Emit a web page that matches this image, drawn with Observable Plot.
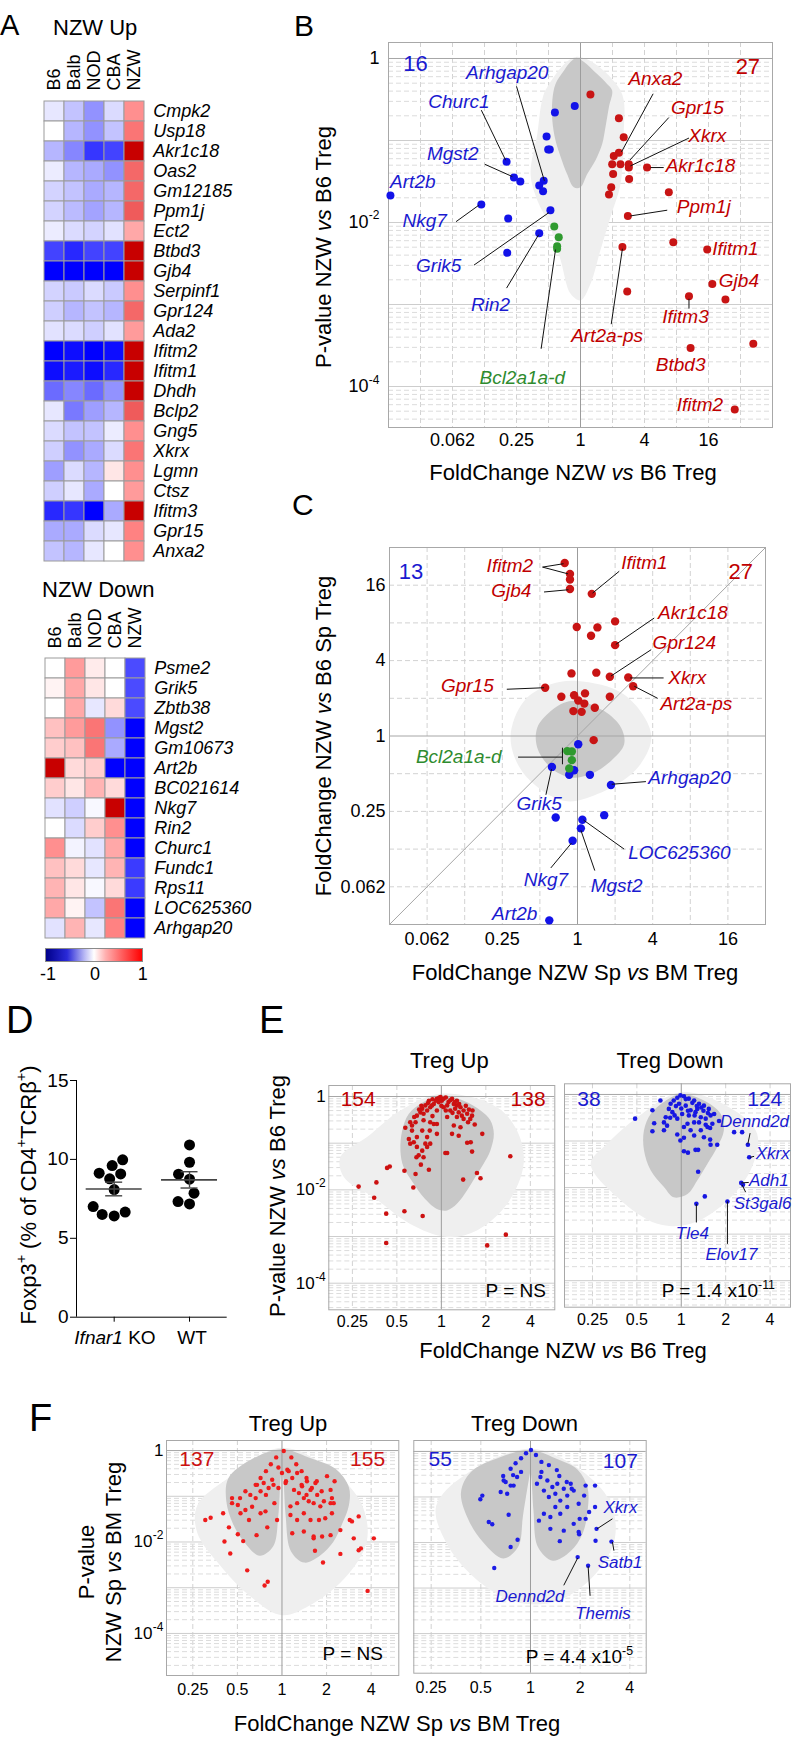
<!DOCTYPE html>
<html><head><meta charset="utf-8">
<script src="https://cdn.jsdelivr.net/npm/d3@7"></script>
<script src="https://cdn.jsdelivr.net/npm/@observablehq/plot@0.6"></script>
<style>
body{margin:0;background:#fff;}
#page{position:relative;width:796px;height:1738px;overflow:hidden;background:#fff;font-family:"Liberation Sans",Arial,Helvetica,sans-serif;}
#overlay{position:absolute;left:0;top:0;pointer-events:none;}
</style></head>
<body><div id="page"></div>
<script>
// ===================== DATA =====================
const strains = ["B6","Balb","NOD","CBA","NZW"];
const upGenes = ["Cmpk2","Usp18","Akr1c18","Oas2","Gm12185","Ppm1j","Ect2","Btbd3","Gjb4","Serpinf1","Gpr124","Ada2","Ifitm2","Ifitm1","Dhdh","Bclp2","Gng5","Xkrx","Lgmn","Ctsz","Ifitm3","Gpr15","Anxa2"];
const upValues = [
 [-0.1,-0.25,-0.45,-0.15,0.45],[0,-0.3,-0.45,-0.25,0.55],[-0.3,-0.5,-0.8,-0.75,1],[-0.08,-0.3,-0.35,-0.45,0.6],
 [-0.18,-0.25,-0.35,-0.3,0.6],[-0.18,-0.28,-0.38,-0.3,0.65],[-0.08,-0.15,-0.18,-0.12,0.35],[-0.75,-0.85,-0.75,-0.75,1],
 [-1,-1,-1,-1,1],[-0.18,-0.22,-0.15,-0.22,0.45],[-0.2,-0.3,-0.25,-0.3,0.6],[-0.12,-0.15,-0.2,-0.12,0.4],
 [-1,-0.95,-1,-0.95,1],[-0.95,-0.9,-0.95,-0.85,1],[-0.6,-0.5,-0.6,-0.45,1],[-0.1,-0.55,-0.4,-0.3,0.65],
 [-0.15,-0.25,-0.25,-0.08,0.45],[-0.2,-0.45,-0.35,-0.15,0.55],[-0.4,-0.15,-0.3,0.1,0.45],[-0.2,-0.1,-0.35,0,0.4],
 [-0.85,-0.8,-1,-0.35,1],[-0.35,-0.35,-0.15,-0.1,0.5],[-0.25,-0.3,-0.1,0,0.45]];
const downGenes = ["Psme2","Grik5","Zbtb38","Mgst2","Gm10673","Art2b","BC021614","Nkg7","Rin2","Churc1","Fundc1","Rps11","LOC625360","Arhgap20"];
const downValues = [
 [0,0.4,0.08,0,-0.72],[0.05,0.35,0.1,0,-0.72],[0,0.35,-0.1,0.15,-0.72],[0.25,0.4,0.55,-0.45,-1],
 [0.2,0.25,0.55,-0.35,-1],[1,0.15,0.2,-1,-1],[0.2,0.1,0.3,0.15,-1],[-0.12,-0.2,-0.03,1,-1],
 [0,-0.15,0.2,0.45,-1],[0.45,-0.05,-0.12,0.35,-1],[0.25,0.15,-0.1,0.3,-0.78],[0.3,0.1,-0.03,0.15,-0.78],
 [0.35,0.05,-0.25,0.55,-1],[-0.12,0.3,-0.1,0.5,-1]];
const colorbarTicks = ["-1","0","1"];

// Panel B: [log2 FoldChange, log10 P]
const bBlue = [[-0.18,-0.58],[-0.80,-0.66],[-1.06,-0.95],[-1.01,-1.11],[-0.96,-1.11],[-2.31,-1.26],[-2.08,-1.45],[-1.88,-1.50],[-1.15,-1.49],[-1.29,-1.55],[-1.17,-1.62],[-5.94,-1.67],[-3.10,-1.78],[-0.94,-1.85],[-2.26,-1.95],[-1.29,-2.13],[-2.29,-2.37]];
const bGreen = [[-0.82,-2.05],[-0.68,-2.18],[-0.73,-2.29],[-0.73,-2.32]];
const bRed = [[0.31,-0.44],[1.20,-0.73],[1.35,-0.96],[1.20,-1.15],[1.04,-1.19],[0.99,-1.29],[1.25,-1.29],[1.51,-1.29],[1.51,-1.33],[2.08,-1.33],[1.02,-1.41],[1.52,-1.47],[0.96,-1.57],[0.89,-1.66],[2.76,-1.63],[1.48,-1.92],[2.90,-2.24],[1.31,-2.30],[3.96,-2.33],[4.12,-2.75],[1.46,-2.84],[3.39,-2.90],[4.53,-2.94],[3.44,-3.53],[5.40,-3.48],[4.82,-4.28]];
const bCloudDense = [[-0.12,0.01],[0.10,-0.04],[0.52,-0.19],[0.83,-0.31],[0.99,-0.39],[0.89,-0.59],[0.78,-0.84],[0.68,-1.04],[0.47,-1.24],[0.21,-1.41],[0,-1.57],[-0.21,-1.57],[-0.42,-1.41],[-0.62,-1.20],[-0.78,-1.00],[-0.88,-0.76],[-0.88,-0.51],[-0.78,-0.31],[-0.52,-0.15],[-0.31,-0.04]];
const bCloudSparse = [[-0.12,0.02],[1.25,-0.39],[1.35,-0.92],[1.25,-1.53],[0.94,-1.93],[0.62,-2.34],[0.31,-2.75],[0,-2.95],[-0.31,-2.87],[-0.62,-2.46],[-0.94,-2.06],[-1.35,-1.73],[-1.56,-1.41],[-1.35,-0.92],[-1.20,-0.51],[-1.04,-0.35]];
const bLabelsBlue = [["Arhgap20",-2.29,-0.17],["Churc1",-3.80,-0.53],["Mgst2",-3.99,-1.16],["Art2b",-5.24,-1.50],["Nkg7",-4.87,-1.98],["Grik5",-4.43,-2.53],["Rin2",-2.81,-3.01]];
const bLabelsGreen = [["Bcl2a1a-d",-1.82,-3.89]];
const bLabelsRed = [["Anxa2",2.34,-0.25],["Gpr15",3.65,-0.60],["Xkrx",3.96,-0.95],["Akr1c18",3.75,-1.31],["Ppm1j",3.85,-1.81],["Ifitm1",4.84,-2.32],["Gjb4",4.95,-2.71],["Ifitm3",3.28,-3.15],["Art2a-ps",0.83,-3.38],["Btbd3",3.13,-3.74],["Ifitm2",3.73,-4.23]];
const bLinks = [[-2.0,-0.34,-1.13,-1.49],[-3.10,-0.63,-2.34,-1.24],[-2.99,-1.29,-2.13,-1.44],[-3.89,-1.99,-3.18,-1.79],[-3.33,-2.52,-0.99,-1.88],[-2.31,-2.80,-1.31,-2.15],[-1.23,-3.54,-0.78,-2.33],[2.27,-0.43,1.28,-1.14],[2.76,-0.72,1.54,-1.24],[3.39,-0.97,1.56,-1.31],[2.60,-1.33,2.19,-1.33],[2.71,-1.85,1.56,-1.92],[3.39,-3.05,3.39,-2.93],[0.96,-3.24,1.31,-2.32]];
const bCountsBlue = [["16",-5.16,-0.07]];
const bCountsRed = [["27",5.23,-0.10]];
const bXTickVals = [-4,-2,0,2,4];
const bXTickLabels = ["0.062","0.25","1","4","16"];
const pYTickVals = [0,-2,-4];

// Panel C: [log2 FC Sp vs BM, log2 FC NZW vs B6]
const cRed = [[-0.34,4.59],[-0.20,4.30],[-0.20,4.15],[-0.20,3.90],[0.38,3.77],[-0.02,2.89],[0.53,2.88],[1.00,3.04],[0.36,2.66],[1.00,2.41],[-0.16,1.66],[0.50,1.68],[0.86,1.57],[1.35,1.55],[1.48,1.32],[-0.86,1.28],[-0.43,1.04],[-0.09,1.08],[0.20,1.13],[0.86,1.04],[0.02,0.94],[0.18,0.86],[0.46,0.75],[-0.11,0.66],[0.11,0.64],[0.43,-0.11]];
const cBlue = [[0.02,-0.22],[-0.68,-0.82],[-0.22,-1.03],[-0.09,-0.91],[0.33,-1.03],[0.89,-1.30],[-0.58,-2.16],[0.71,-2.10],[0.13,-2.22],[0.09,-2.45],[-0.13,-2.78],[-0.75,-4.89]];
const cGreen = [[-0.27,-0.40],[-0.15,-0.41],[-0.15,-0.64],[-0.22,-0.86]];
const cCloudDense = [[0,0.93],[0.71,0.66],[1.16,0.22],[1.24,-0.22],[0.89,-0.66],[0.36,-1.01],[-0.18,-1.10],[-0.71,-0.84],[-1.07,-0.31],[-1.07,0.22],[-0.71,0.66],[-0.36,0.88]];
const cCloudSparse = [[0,1.46],[1.24,1.10],[1.96,0.04],[1.60,-0.84],[0.53,-1.54],[-0.36,-1.72],[-1.42,-1.01],[-1.78,-0.04],[-1.42,0.93],[-0.71,1.37]];
const cLabelsRed = [["Ifitm2",-1.80,4.50],["Gjb4",-1.76,3.85],["Ifitm1",1.78,4.59],["Akr1c18",3.07,3.26],["Gpr124",2.84,2.47],["Xkrx",2.92,1.54],["Art2a-ps",3.16,0.86],["Gpr15",-2.93,1.32]];
const cLabelsBlue = [["Arhgap20",2.98,-1.12],["Grik5",-1.02,-1.79],["LOC625360",2.71,-3.11],["Nkg7",-0.84,-3.82],["Mgst2",1.04,-3.97],["Art2b",-1.67,-4.72]];
const cLabelsGreen = [["Bcl2a1a-d",-3.16,-0.56]];
const cLinks = [[-0.93,4.48,-0.37,4.57],[-0.93,4.48,-0.25,4.30],[-0.89,3.82,-0.24,3.88],[1.11,4.37,0.40,3.79],[2.04,3.13,1.02,2.43],[1.96,2.29,0.89,1.59],[2.29,1.54,1.40,1.54],[2.13,1.00,1.51,1.32],[-1.88,1.24,-0.89,1.28],[-1.58,-0.56,-0.40,-0.56],[-0.40,-0.31,-0.40,-0.75],[1.82,-1.21,0.91,-1.28],[-0.84,-1.56,-0.69,-0.88],[1.24,-3.00,0.16,-2.23],[-0.71,-3.50,-0.16,-2.84],[0.46,-3.57,0.09,-2.50]];
const cCountsBlue = [["13",-4.43,4.35]];
const cCountsRed = [["27",4.34,4.35]];
const cTickVals = [-4,-2,0,2,4];
const cTickLabels = ["0.062","0.25","1","4","16"];

// Panel D: Foxp3+ (% of CD4+TCRb+)
const foxGroups = ["Ifnar1 KO","WT"];
const koValues = [9.13,9.61,9.97,9.08,8.77,8.09,6.66,6.42,6.51,7.01];
const wtValues = [10.92,9.82,9.06,8.75,7.86,7.18,7.33];
const dTicks = [0,5,10,15];

// Panel E: [log2 FC NZW vs B6, log10 P]
const eUpRed = [[-1.86,-1.93],[-1.46,-1.84],[-1.51,-2.17],[-1.24,-2.51],[-1.24,-3.14],[-0.83,-2.46],[-0.42,-2.56],[-0.63,-1.95],[-0.58,-1.66],[-0.28,-1.57],[-0.83,-1.59],[-1.16,-1.50],[-1.22,-1.53],[-0.46,-1.46],[0.49,-1.78],[0.80,-1.64],[0.88,-1.75],[1.03,-3.19],[1.45,-2.96],[1.55,-1.28],[0.69,-1.18],[0.58,-0.99],[0.66,-0.98],[0.92,-0.80],[0.13,-1.21],[0.09,-1.21],[-0.56,-1.30],[-0.51,-1.26],[-0.32,-1.08],[-0.70,-1.01],[-0.73,-0.91],[-0.66,-0.73],[-0.81,-0.67],[-0.61,-0.44],[-0.40,-0.51],[-0.25,-0.55],[-0.10,-0.80],[-0.17,-0.59],[0.24,-0.80],[0.39,-0.84],[0.43,-0.66],[0.50,-0.48],[0.65,-0.48],[0.28,-0.62],[0.35,-0.44],[0.13,-0.44],[-0.55,-0.87],[-0.43,-1.16],[-0.36,-1.01],[-0.25,-1.01],[-0.40,-1.30],[-0.32,-0.87],[-0.26,-0.73],[-0.43,-0.73],[-0.10,-0.59],[0.05,-0.23],[0.13,-0.19],[0.20,-0.30],[0.35,-0.19],[0.43,-0.23],[0.50,-0.30],[-0.17,-0.16],[-0.25,-0.23],[-0.32,-0.30],[-0.40,-0.37],[-0.47,-0.34],[-0.55,-0.41],[-0.06,-0.12],[0.01,-0.09],[-0.10,-0.05],[0.05,-0.05],[0.16,-0.12],[0.28,-0.16],[0.31,-0.26],[0.58,-0.37],[0.69,-0.41],[-0.02,-0.01],[-0.13,-0.09],[-0.21,-0.19],[-0.28,-0.09],[0.24,-0.05],[0.35,-0.09],[0.39,-0.34],[0.46,-0.41],[-0.36,-0.19],[-0.43,-0.26],[-0.58,-0.55],[-0.66,-0.62],[-0.55,-1.08],[-0.62,-0.98],[0.10,-0.02],[-0.05,-0.03],[0.20,-0.08],[-0.20,-0.06],[0.30,-0.12],[-0.30,-0.14],[0.40,-0.16],[0.55,-0.20],[0.62,-0.28],[0.70,-0.30],[-0.45,-0.20],[-0.50,-0.28],[0.10,-0.30],[0.00,-0.20],[-0.10,-0.30],[0.25,-0.35],[-0.20,-0.42],[0.60,-0.55],[0.75,-0.60],[-0.70,-0.55]];
const eDownBlue = [[-1.04,-0.52],[-0.65,-0.34],[-0.61,-0.62],[-0.65,-0.79],[-0.39,-0.60],[-0.35,-0.49],[-0.32,-0.67],[-0.39,-0.77],[-0.09,-0.86],[0.06,-0.93],[0.06,-1.22],[0.15,-1.25],[0.32,-1.19],[0.38,-1.19],[0.38,-1.66],[0.53,-2.19],[0.34,-2.35],[1.04,-2.30],[1.35,-1.90],[1.39,-1.94],[1.50,-1.08],[1.53,-1.35],[1.19,-0.81],[1.37,-0.81],[0.81,-1.08],[0.65,-0.97],[0.51,-0.92],[0.29,-0.88],[0.21,-0.77],[0.44,-0.77],[0.59,-0.70],[0.70,-0.63],[0.74,-0.42],[0.62,-0.31],[0.51,-0.24],[0.40,-0.20],[0.29,-0.13],[0.17,-0.09],[0.06,-0.04],[-0.02,-0.02],[-0.09,-0.07],[-0.17,-0.13],[-0.24,-0.20],[-0.28,-0.31],[-0.20,-0.38],[-0.05,-0.20],[0.10,-0.24],[0.21,-0.34],[0.32,-0.38],[0.44,-0.49],[0.55,-0.52],[0.29,-0.60],[0.14,-0.63],[0.02,-0.42],[-0.09,-0.52],[0.17,-0.45],[0.36,-0.31],[0.66,-0.45],[0.85,-0.57],[-0.47,-0.13],[0.06,-0.70],[-0.02,-0.99],[0.66,-1.08],[0.10,-0.10],[0.25,-0.18],[0.45,-0.28],[0.60,-0.40],[0.50,-0.35],[0.35,-0.25],[-0.12,-0.25],[0.00,-0.30],[0.15,-0.35],[0.30,-0.45],[0.40,-0.60],[0.55,-0.65],[0.65,-0.72],[-0.15,-0.45],[-0.25,-0.50]];
const eUpCloudDense = [[0,0.02],[0.50,-0.09],[0.88,-0.30],[1.10,-0.51],[1.18,-0.80],[1.10,-1.16],[0.95,-1.44],[0.76,-1.73],[0.58,-2.01],[0.35,-2.30],[0.13,-2.44],[-0.10,-2.41],[-0.40,-2.16],[-0.62,-1.87],[-0.85,-1.51],[-0.92,-1.16],[-0.88,-0.73],[-0.73,-0.37],[-0.40,-0.12]];
const eUpCloudSparse = [[0,0.06],[1.25,-0.23],[1.70,-0.73],[1.85,-1.44],[1.48,-2.30],[0.80,-2.87],[0.13,-3.01],[-0.70,-2.73],[-1.52,-2.16],[-2.19,-1.73],[-2.27,-1.30],[-1.67,-0.87],[-0.92,-0.30]];
const eDownCloudDense = [[0,0.01],[0.51,-0.13],[0.89,-0.42],[0.96,-0.77],[0.81,-1.13],[0.59,-1.49],[0.36,-1.85],[0.14,-2.14],[-0.17,-2.21],[-0.39,-1.99],[-0.69,-1.63],[-0.84,-1.20],[-0.84,-0.77],[-0.69,-0.42],[-0.39,-0.16]];
const eDownCloudSparse = [[0,0.05],[1.19,-0.34],[1.71,-0.85],[1.56,-1.63],[0.96,-2.35],[0.21,-2.78],[-0.54,-2.78],[-1.44,-2.21],[-2.04,-1.49],[-1.67,-1.06],[-0.99,-0.49]];
const eDownLabels = [["Dennd2d",1.65,-0.59],["Xkrx",2.06,-1.28],["Adh1",1.97,-1.85],["St3gal6",1.83,-2.34],["Tle4",0.25,-2.98],["Elov17",1.13,-3.43]];
const eDownLinks = [[1.55,-0.83,1.50,-1.06],[1.64,-1.33,1.55,-1.35],[1.52,-1.89,1.35,-1.90],[1.45,-2.10,1.37,-1.94],[0.34,-2.75,0.34,-2.35],[1.04,-3.21,1.04,-2.30]];
const eUpCounts = [["154",-1.87,-0.06],["138",1.95,-0.06]];
const eDownCounts = [["38",-2.08,-0.11],["124",1.88,-0.11]];
const eTickVals = [-2,-1,0,1,2];
const eTickLabels = ["0.25","0.5","1","2","4"];

// Panel F: [log2 FC NZW Sp vs BM, log10 P]
const fUpRed = [[-1.72,-1.52],[-1.60,-1.47],[-1.32,-1.37],[-1.19,-1.68],[-1.29,-1.99],[-1.16,-2.25],[-0.99,-1.83],[-0.87,-1.98],[-0.78,-2.62],[-0.39,-2.95],[-0.32,-2.87],[-0.57,-1.85],[-0.33,-1.68],[-0.11,-1.52],[-1.12,-1.15],[-1.12,-1.04],[-0.99,-1.19],[-0.93,-1.37],[-0.82,-1.30],[-0.74,-1.52],[-0.67,-1.23],[-0.71,-0.97],[-0.56,-0.75],[-0.48,-0.89],[-0.41,-0.71],[-0.30,-0.82],[-0.22,-0.64],[-0.37,-1.33],[-0.48,-1.37],[-0.17,-1.15],[0.19,-1.22],[0.34,-1.15],[0.27,-0.86],[0.38,-0.93],[0.49,-1.04],[0.60,-1.11],[0.71,-1.15],[0.79,-0.97],[0.86,-1.22],[0.94,-1.11],[1.09,-1.15],[1.12,-1.37],[0.97,-1.48],[0.83,-1.52],[0.64,-1.52],[0.49,-1.37],[0.34,-1.52],[0.19,-1.41],[0.23,-1.81],[0.49,-1.77],[0.71,-1.88],[0.90,-1.88],[1.09,-1.85],[1.31,-1.74],[1.52,-1.52],[1.57,-1.55],[1.72,-1.44],[1.61,-1.92],[2.06,-1.92],[1.77,-2.14],[1.72,-2.18],[1.31,-2.26],[0.92,-2.45],[0.74,-2.19],[0.71,-1.92],[1.92,-3.07],[0.45,-0.78],[0.56,-0.67],[0.64,-0.86],[0.75,-0.71],[1.01,-0.56],[1.09,-0.86],[1.16,-1.15],[0.08,-0.71],[0.00,-0.49],[0.12,-0.42],[0.34,-0.49],[0.23,-0.60],[0.04,-0.01],[-0.13,-0.15],[0.21,-0.15],[-0.25,-0.30],[0.32,-0.30],[-0.36,-0.45],[0.44,-0.45],[-0.48,-0.60],[0.55,-0.60],[-0.08,-0.37],[0.15,-0.45],[-0.59,-0.75],[0.78,-0.67],[0.67,-0.82],[0.89,-0.89],[-0.82,-0.89],[1.12,-1.04],[-0.94,-1.04],[0.09,-0.67],[-0.08,-0.82],[0.44,-0.75],[0.55,-0.97],[-0.36,-0.97],[-0.19,-0.75],[1.18,-0.67],[-0.59,-1.04]];
const fDownBlue = [[-1.01,-1.05],[-0.84,-1.55],[-0.77,-1.60],[-0.73,-2.56],[-0.40,-2.10],[-0.26,-1.94],[-0.44,-1.39],[-0.60,-0.89],[-0.47,-0.93],[-0.34,-0.75],[-0.54,-0.64],[-0.27,-0.56],[0.17,-1.52],[0.27,-1.37],[0.40,-1.44],[0.50,-1.22],[0.60,-1.08],[0.74,-0.97],[0.87,-0.86],[0.97,-1.15],[1.08,-0.97],[1.11,-0.75],[1.30,-0.75],[1.30,-1.22],[1.18,-1.33],[0.99,-1.48],[1.11,-1.48],[0.87,-1.59],[0.67,-1.74],[0.97,-1.77],[0.98,-1.82],[0.59,-1.97],[0.40,-1.70],[1.31,-1.96],[1.33,-1.70],[1.63,-1.98],[0.95,-2.32],[1.16,-2.51],[0.13,-0.71],[0.20,-0.56],[0.34,-0.64],[0.44,-0.78],[0.54,-0.71],[0.67,-0.82],[0.81,-0.71],[0.27,-0.86],[0.37,-1.00],[0.50,-0.93],[0.74,-1.22],[0.60,-1.37],[0.01,0.03],[-0.09,-0.04],[0.11,-0.08],[-0.19,-0.15],[0.22,-0.23],[-0.30,-0.26],[0.37,-0.30],[-0.40,-0.38],[0.53,-0.41],[-0.35,-0.52],[0.58,-0.54],[-0.50,-0.67],[0.73,-0.67],[-0.19,-0.45],[0.22,-0.45],[-0.55,-0.54],[0.83,-0.82],[-0.97,-0.97],[-0.40,-0.75]];
const fUpCloudDense = [[0,0.03],[0.6,-0.15],[1.2,-0.4],[1.5,-0.8],[1.5,-1.2],[1.35,-1.6],[1.15,-2.0],[0.85,-2.3],[0.5,-2.45],[0.2,-2.2],[0.08,-1.4],[0.03,-0.6],[0,-0.45],[-0.03,-0.6],[-0.08,-1.4],[-0.2,-2.1],[-0.5,-2.3],[-0.85,-2.0],[-1.1,-1.6],[-1.25,-1.1],[-1.2,-0.6],[-0.7,-0.2]];
const fUpCloudSparse = [[0,0.06],[1.2,-0.5],[1.8,-1.2],[1.9,-2.0],[1.4,-2.8],[0.6,-3.4],[0,-3.6],[-0.7,-3.2],[-1.4,-2.5],[-1.9,-1.8],[-1.9,-1.2],[-1.2,-0.6]];
const fDownCloudDense = [[0,0.03],[0.5,-0.15],[0.95,-0.4],[1.15,-0.8],[1.15,-1.3],[1.05,-1.8],[0.8,-2.2],[0.45,-2.4],[0.15,-2.1],[0.06,-1.3],[0.02,-0.6],[0,-0.45],[-0.03,-0.6],[-0.15,-1.4],[-0.25,-2.1],[-0.55,-2.35],[-0.95,-2.0],[-1.25,-1.5],[-1.4,-0.9],[-1.2,-0.45],[-0.6,-0.12]];
const fDownCloudSparse = [[0,0.06],[1.0,-0.4],[1.6,-1.1],[1.7,-1.9],[1.3,-2.7],[0.5,-3.3],[-0.3,-3.3],[-1.1,-2.8],[-1.7,-2.0],[-1.9,-1.2],[-1.3,-0.5]];
const fDownLabels = [["Xkrx",1.81,-1.24],["Satb1",1.80,-2.43],["Dennd2d",-0.01,-3.19],["Themis",1.46,-3.55]];
const fDownLinks = [[1.65,-1.48,1.34,-1.70],[1.68,-2.18,1.65,-1.99],[0.67,-2.94,0.95,-2.34],[1.20,-3.17,1.16,-2.52]];
const fUpCounts = [["137",-1.91,-0.19],["155",1.92,-0.20]];
const fDownCounts = [["55",-1.82,-0.17],["107",1.81,-0.22]];

// ===================== DRAWING =====================
const FONT = '"Liberation Sans", Arial, Helvetica, sans-serif';
const page = document.getElementById("page");
const STYLE = {fontFamily: FONT, background: "transparent", overflow: "visible", color: "#000"};
function place(el, left, top) { el.style.position = "absolute"; el.style.left = left + "px"; el.style.top = top + "px"; el.style.maxWidth = "none"; page.appendChild(el); }
const T = a => a.map(([t, x, y]) => ({t, x, y}));

// Heatmaps
const heatColor = {type: "linear", domain: [-1, -0.5, 0, 0.5, 1], range: ["#0000ff", "#8686ff", "#ffffff", "#ff8282", "#c80000"], interpolate: "rgb"};
function heatmap(genes, values, o) {
  const cells = [];
  genes.forEach((g, i) => strains.forEach((s, j) => cells.push({gene: g, strain: s, value: values[i][j]})));
  return Plot.plot({
    width: 290, height: o.h, marginLeft: o.ml, marginRight: 290 - o.ml - 5 * 20.3, marginTop: o.mt, marginBottom: o.h - o.mt - genes.length * o.rh,
    x: {domain: strains, padding: 0},
    y: {domain: genes, padding: 0},
    color: heatColor,
    style: STYLE,
    marks: [
      Plot.cell(cells, {x: "strain", y: "gene", fill: "value", stroke: "#9c9c9c", strokeWidth: 1, inset: 0}),
      Plot.axisX({anchor: "top", tickSize: 0, tickRotate: -90, tickPadding: o.tp, fontSize: 18, label: null}),
      Plot.axisY({anchor: "right", tickSize: 0, tickPadding: 8, fontSize: 18, fontStyle: "italic", label: null})
    ]
  });
}
place(heatmap(upGenes, upValues, {h: 580, ml: 43.3, mt: 99, rh: 20.2, tp: 9}), 0, 0);
place(heatmap(downGenes, downValues, {h: 365, ml: 44.3, mt: 78, rh: 20, tp: 10}), 0, 580);
const cb = document.createElement("div");
cb.style.cssText = "position:absolute;left:45px;top:948px;width:98px;height:14px;box-sizing:border-box;border:1px solid #8a8a8a;background:linear-gradient(to right,#00008a,#2a2ad8 22%,#b8b8f4 40%,#ffffff 50%,#ffb0b0 62%,#ff5a5a 80%,#ff0000)";
page.appendChild(cb);

// Scatter/volcano helper
function minorLog(lo, hi, dom) { const a = []; for (let k = lo; k < hi; k++) for (let m = 2; m < 10; m++) { const v = k + Math.log10(m); if (v > dom[0] && v < dom[1]) a.push(v); } return a; }
function logTickMarks(vals, size, sup, pad) {
  const one = vals.filter(v => v === 0).map(v => ({v}));
  const ten = vals.filter(v => v !== 0).map(v => ({v, e: String(v)}));
  return [
    Plot.text(one, {y: "v", text: () => "1", frameAnchor: "left", textAnchor: "end", dx: -pad, fontSize: size}),
    Plot.text(ten, {y: "v", text: () => "10", frameAnchor: "left", textAnchor: "end", dx: -(pad + sup * 0.92), fontSize: size}),
    Plot.text(ten, {y: "v", text: "e", frameAnchor: "left", textAnchor: "end", dx: -pad, dy: -size * 0.38, fontSize: sup})
  ];
}
function scatter(c) {
  const m = [];
  const [y0, y1] = c.ydom;
  if (c.vgrid) m.push(Plot.ruleX(c.vgrid, {stroke: "#d2d2d2", strokeDasharray: "5,3"}));
  if (c.hgrid) m.push(Plot.ruleY(c.hgrid, {stroke: "#d2d2d2", strokeDasharray: "5,3"}));
  if (c.logY) {
    m.push(Plot.ruleY(minorLog(-6, 1, c.ydom), {stroke: "#dcdcdc", strokeDasharray: "5,3"}));
    m.push(Plot.ruleY(d3.range(-6, 0).filter(v => v > y0 && v < y1), {stroke: "#cdcdcd"}));
  }
  for (const [pts, fill, op] of c.clouds) m.push(Plot.line(pts, {x: d => d[0], y: d => d[1], fill, fillOpacity: op == null ? 1 : op, stroke: "none", curve: "catmull-rom-closed"}));
  if (c.diag) m.push(Plot.line(c.diag, {x: d => d[0], y: d => d[1], stroke: "#a6a6a6", strokeWidth: 1}));
  m.push(Plot.ruleX([0], {stroke: "#9c9c9c"}), Plot.ruleY([0], {stroke: "#a6a6a6"}), Plot.frame({stroke: "#a8a8a8"}));
  for (const [pts, fill, r] of c.dots) m.push(Plot.dot(pts, {x: d => d[0], y: d => d[1], r, fill}));
  if (c.links) m.push(Plot.link(c.links, {x1: d => d[0], y1: d => d[1], x2: d => d[2], y2: d => d[3], stroke: "#111", strokeWidth: 1}));
  for (const [arr, fill, size, style] of c.texts) m.push(Plot.text(T(arr), {x: "x", y: "y", text: "t", fill, fontSize: size, fontStyle: style || "normal"}));
  const xl = new Map(c.xTicks.vals.map((v, i) => [v, c.xTicks.labels[i]]));
  m.push(Plot.axisX({ticks: c.xTicks.vals, tickFormat: d => xl.get(d), tickSize: 0, tickPadding: c.xTicks.pad, fontSize: c.xTicks.size, label: null}));
  if (c.yAxis) {
    const yl = new Map(c.yAxis.vals.map((v, i) => [v, c.yAxis.labels[i]]));
    m.push(Plot.axisY({ticks: c.yAxis.vals, tickFormat: d => yl.get(d), tickSize: 0, tickPadding: c.yAxis.pad, fontSize: c.yAxis.size, label: null}));
  }
  if (c.logTicks) m.push(...logTickMarks(c.logTicks.vals, c.logTicks.size, c.logTicks.sup, c.logTicks.pad));
  return Plot.plot({
    width: c.w, height: c.h, marginLeft: c.ml, marginRight: c.mr, marginTop: c.mt, marginBottom: c.mb,
    x: {domain: c.xdom}, y: c.yAxis ? {domain: c.ydom} : {domain: c.ydom, axis: null},
    style: STYLE, marks: m
  });
}
const RED = "#c81414", BLUE = "#1212e8", GREEN = "#2f9a2f";
const RED_T = "#c00000", BLUE_T = "#1a1ad0", GREEN_T = "#2e8b2e";
const DENSE = "#c8c8c8", SPARSE = "#efefef";

// Panel B
place(scatter({
  w: 506, h: 490, ml: 98, mr: 24, mt: 42, mb: 63, xdom: [-6, 6], ydom: [-4.5, 0.195],
  vgrid: d3.range(-5, 6).filter(v => v !== 0), logY: true,
  clouds: [[bCloudSparse, SPARSE], [bCloudDense, DENSE]],
  dots: [[bBlue, BLUE, 4], [bGreen, GREEN, 4], [bRed, RED, 4]],
  links: bLinks,
  texts: [[bLabelsBlue, BLUE_T, 19, "italic"], [bLabelsGreen, GREEN_T, 19, "italic"], [bLabelsRed, RED_T, 19, "italic"], [bCountsBlue, BLUE_T, 22], [bCountsRed, RED_T, 22]],
  xTicks: {vals: bXTickVals, labels: bXTickLabels, pad: 6, size: 18},
  logTicks: {vals: pYTickVals, size: 18, sup: 12, pad: 9}
}), 290, 0);

// Panel C
place(scatter({
  w: 506, h: 500, ml: 99, mr: 31, mt: 57, mb: 66, xdom: [-5, 5], ydom: [-5, 5],
  vgrid: d3.range(-4, 5).filter(v => v !== 0), hgrid: d3.range(-4, 5).filter(v => v !== 0),
  clouds: [[cCloudSparse, SPARSE], [cCloudDense, DENSE]],
  diag: [[-5, -5], [5, 5]],
  dots: [[cRed, RED, 4.2], [cBlue, BLUE, 4.2], [cGreen, GREEN, 4.2]],
  links: cLinks,
  texts: [[cLabelsRed, RED_T, 19, "italic"], [cLabelsBlue, BLUE_T, 19, "italic"], [cLabelsGreen, GREEN_T, 19, "italic"], [cCountsBlue, BLUE_T, 22], [cCountsRed, RED_T, 22]],
  xTicks: {vals: cTickVals, labels: cTickLabels, pad: 8, size: 18},
  yAxis: {vals: cTickVals, labels: cTickLabels, pad: 4, size: 18}
}), 290, 490);

// Panel D (scatter with mean ± SEM)
const dML = 76, dMR = 63.3, dMT = 90, dMB = 43.3, dW = 290, dH = 370;
const dPxX = (dW - dML - dMR) / 2, dPxY = (dH - dMT - dMB) / 15, dotR = 5.5;
function swarmOffsets(values) {
  // beeswarm layout: smallest horizontal shift (px) so dots do not overlap; returned in x-scale units
  const placed = [], out = new Array(values.length);
  const order = values.map((v, i) => i).sort((a, b) => values[a] - values[b]);
  for (const i of order) {
    const y = values[i] * dPxY;
    let x = 0;
    for (let k = 0; k < 400; k++) {
      const cand = (k % 2 ? -1 : 1) * Math.ceil(k / 2) * 0.5;
      if (placed.every(p => Math.hypot(p.x - cand, p.y - y) >= 2 * dotR + 0.6)) { x = cand; break; }
    }
    placed.push({x, y}); out[i] = x / dPxX;
  }
  return out;
}
const foxData = [];
[koValues, wtValues].forEach((vals, gi) => {
  const off = swarmOffsets(vals);
  vals.forEach((v, i) => foxData.push({group: foxGroups[gi], pos: gi + 0.5, value: v, off: off[i]}));
});
const foxStats = foxGroups.map((g, gi) => {
  const v = foxData.filter(d => d.group === g).map(d => d.value);
  const mean = d3.mean(v), se = d3.deviation(v) / Math.sqrt(v.length);
  return {group: g, pos: gi + 0.5, mean, lo: mean - se, hi: mean + se};
});
const meanHalf = 28 / dPxX, semHalf = 8.5 / dPxX;
place(Plot.plot({
  width: dW, height: dH, marginLeft: dML, marginRight: dMR, marginTop: dMT, marginBottom: dMB,
  x: {domain: [0, 2]},
  y: {domain: [0, 15]},
  style: STYLE,
  marks: [
    Plot.ruleX([0], {y1: 0, y2: 15, stroke: "#000"}),
    Plot.ruleY([0], {stroke: "#000"}),
    Plot.axisY({ticks: dTicks, tickSize: 6, tickPadding: 2, fontSize: 19, label: null}),
    Plot.axisX({ticks: foxStats.map(d => d.pos), tickSize: 5, tickFormat: () => "", label: null}),
    Plot.dot(foxData, {x: d => d.pos + d.off, y: "value", r: dotR, fill: "#000"}),
    Plot.ruleY(foxStats, {y: "mean", x1: d => d.pos - meanHalf, x2: d => d.pos + meanHalf, stroke: "#444", strokeWidth: 1.6}),
    Plot.ruleY(foxStats, {y: "lo", x1: d => d.pos - semHalf, x2: d => d.pos + semHalf, stroke: "#444", strokeWidth: 1.4}),
    Plot.ruleY(foxStats, {y: "hi", x1: d => d.pos - semHalf, x2: d => d.pos + semHalf, stroke: "#444", strokeWidth: 1.4}),
    Plot.ruleX(foxStats, {x: "pos", y1: "lo", y2: "hi", stroke: "#444", strokeWidth: 1.4})
  ]
}), 0, 990);

// Panel E
const E_RED = "#cc1111", E_BLUE = "#1717e2";
place(scatter({
  w: 270, h: 340, ml: 38.3, mr: 5.7, mt: 55, mb: 60.7, xdom: [-2.53, 2.55], ydom: [-4.57, 0.236],
  vgrid: [-2, -1, 1, 2], logY: true,
  clouds: [[eUpCloudSparse, SPARSE], [eUpCloudDense, DENSE]],
  dots: [[eUpRed, E_RED, 2.3]],
  texts: [[eUpCounts, "#c00000", 21]],
  xTicks: {vals: eTickVals, labels: eTickLabels, pad: 6, size: 16},
  logTicks: {vals: pYTickVals, size: 17, sup: 12, pad: 3}
}), 290, 1030);
place(scatter({
  w: 236, h: 340, ml: 4, mr: 6, mt: 53.3, mb: 63.3, xdom: [-2.63, 2.46], ydom: [-4.57, 0.229],
  vgrid: [-2, -1, 1, 2], logY: true,
  clouds: [[eDownCloudSparse, SPARSE], [eDownCloudDense, DENSE]],
  dots: [[eDownBlue, E_BLUE, 2.3]],
  links: eDownLinks,
  texts: [[eDownLabels, BLUE_T, 17, "italic"], [eDownCounts, BLUE_T, 21]],
  xTicks: {vals: eTickVals, labels: eTickLabels, pad: 6, size: 16}
}), 560, 1030);

// Panel F
const F_RED = "#ee1b1b", F_BLUE = "#1c1ce6";
place(scatter({
  w: 290, h: 320, ml: 46, mr: 11.7, mt: 50, mb: 35, xdom: [-2.59, 2.62], ydom: [-4.92, 0.22],
  vgrid: [-2, -1, 1, 2], logY: true,
  clouds: [[fUpCloudSparse, SPARSE], [fUpCloudDense, DENSE]],
  dots: [[fUpRed, F_RED, 2.2]],
  texts: [[fUpCounts, "#cc1111", 21]],
  xTicks: {vals: eTickVals, labels: eTickLabels, pad: 8, size: 16},
  logTicks: {vals: pYTickVals, size: 17, sup: 12, pad: 3}
}), 120, 1390);
place(scatter({
  w: 240, h: 320, ml: 3.3, mr: 4.3, mt: 50, mb: 37.3, xdom: [-2.35, 2.33], ydom: [-4.87, 0.24],
  vgrid: [-2, -1, 1, 2], logY: true,
  clouds: [[fDownCloudSparse, SPARSE], [fDownCloudDense, DENSE]],
  dots: [[fDownBlue, F_BLUE, 2.2]],
  links: fDownLinks,
  texts: [[fDownLabels, BLUE_T, 17, "italic"], [fDownCounts, BLUE_T, 21]],
  xTicks: {vals: eTickVals, labels: eTickLabels, pad: 8, size: 16}
}), 410, 1390);

// ===================== TEXT OVERLAY =====================
const ov = d3.select("#page").append("svg").attr("id", "overlay").attr("width", 796).attr("height", 1738).style("font-family", FONT);
function label(x, y, parts, o = {}) {
  const size = o.size || 22;
  const t = ov.append("text")
    .attr("transform", `translate(${x},${y})` + (o.rotate ? ` rotate(${o.rotate})` : ""))
    .attr("text-anchor", o.anchor || "middle").attr("font-size", size).attr("fill", o.fill || "#000");
  let raised = false;
  for (const p of (typeof parts === "string" ? [[parts]] : parts)) {
    const [s, st] = Array.isArray(p) ? p : [p];
    const ts = t.append("tspan").text(s);
    if (st === "i") ts.attr("font-style", "italic");
    if (st === "sup") { ts.attr("font-size", size * 0.65).attr("dy", -size * 0.42); raised = true; }
    else if (raised) { ts.attr("dy", size * 0.42); raised = false; }
  }
}
function vlabel(cx, cy, parts, size = 22) { label(cx + 0.35 * size, cy, parts, {rotate: -90, size}); }

label(0, 35, "A", {size: 29, anchor: "start"});
label(53, 35, "NZW Up", {size: 22, anchor: "start"});
label(42, 597, "NZW Down", {size: 22, anchor: "start"});
[48, 95, 142.7].forEach((x, i) => label(x, 980, colorbarTicks[i], {size: 18}));
label(294, 36, "B", {size: 30, anchor: "start"});
label(292, 515, "C", {size: 30, anchor: "start"});
label(6, 1033, "D", {size: 38, anchor: "start"});
label(259, 1033, "E", {size: 38, anchor: "start"});
label(29, 1431, "F", {size: 38, anchor: "start"});

label(573, 480, [["FoldChange NZW "], ["vs", "i"], [" B6 Treg"]]);
vlabel(323, 247, [["P-value NZW "], ["vs", "i"], [" B6 Treg"]]);
label(575, 980, [["FoldChange NZW Sp "], ["vs", "i"], [" BM Treg"]]);
vlabel(323, 736, [["FoldChange NZW "], ["vs", "i"], [" B6 Sp Treg"]]);

vlabel(28, 1195, [["Foxp3"], ["+", "sup"], [" (% of CD4"], ["+", "sup"], ["TCRβ"], ["+", "sup"], [")"]], 22);
label(115, 1344, [["Ifnar1", "i"], [" KO"]], {size: 19});
label(192, 1344, "WT", {size: 19});

label(449.3, 1068, "Treg Up");
label(670, 1068, "Treg Down");
label(563, 1358, [["FoldChange NZW "], ["vs", "i"], [" B6 Treg"]]);
vlabel(277, 1196, [["P-value NZW "], ["vs", "i"], [" B6 Treg"]]);
label(546, 1297, "P = NS", {size: 19, anchor: "end"});
label(775, 1297, [["P = 1.4 x10"], ["-11", "sup"]], {size: 19, anchor: "end"});

label(288, 1431, "Treg Up");
label(524.5, 1431, "Treg Down");
label(397, 1731, [["FoldChange NZW Sp "], ["vs", "i"], [" BM Treg"]]);
vlabel(86, 1562, "P-value");
vlabel(113, 1562, [["NZW Sp "], ["vs", "i"], [" BM Treg"]]);
label(383, 1660, "P = NS", {size: 19, anchor: "end"});
label(633, 1663, [["P = 4.4 x10"], ["-5", "sup"]], {size: 19, anchor: "end"});
</script>
</body></html>
